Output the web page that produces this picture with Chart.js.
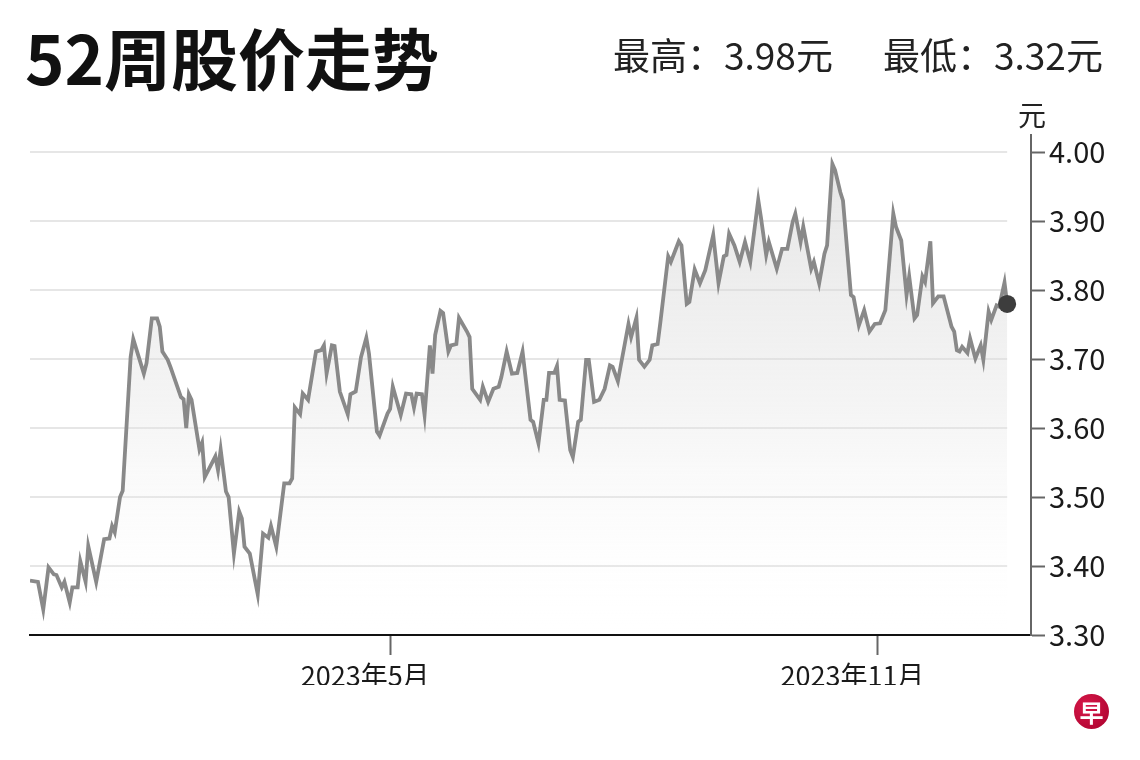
<!DOCTYPE html>
<html lang="zh">
<head>
<meta charset="utf-8">
<title>52周股价走势</title>
<script src="https://cdn.jsdelivr.net/npm/chart.js@4.4.1/dist/chart.umd.min.js"></script>
<style>
  body { margin: 0; background: #fff; }
  #wrap { position: relative; width: 1140px; height: 760px; overflow: hidden; font-family: "Noto Sans CJK SC", "Noto Sans", sans-serif; }
  #stockChart { position: absolute; left: 0; top: 0; }
  .txt { position: absolute; line-height: 1; white-space: nowrap; }
  #title { left: 25px; top: 22px; font-size: 67px; font-weight: 700; color: #111; }
  .hilo { top: 36px; font-size: 37px; color: #222; }
  #unit { left: 1018px; top: 100px; font-size: 28px; color: #222; }
  #logo { position: absolute; left: 1074px; top: 694px; width: 35px; height: 35px; border-radius: 50%;
          background: radial-gradient(circle at 35% 35%, #d8194a, #a8002c); color: #fff;
          font-size: 24px; font-weight: 700; line-height: 35px; text-align: center; }
</style>
</head>
<body>
<div id="wrap">
  <canvas id="stockChart" width="1140" height="760"></canvas>
  <div id="title" class="txt">52周股价走势</div>
  <div class="txt hilo" style="left:613px">最高：3.98元</div>
  <div class="txt hilo" style="left:883px">最低：3.32元</div>
  <div id="unit" class="txt">元</div>
  <div id="logo">早</div>
</div>
<script>
// Días desde el 16/12/2022 y precio de cierre
const DAYS = [0, 3, 5, 7, 9, 10, 12, 13, 15, 16, 18, 19, 21, 22, 25, 28, 30, 31, 32, 34, 35, 38, 39, 43, 44, 46, 48, 49, 50, 52, 53, 57, 58, 59, 60, 61, 64, 65, 66, 70, 71, 72, 74, 75, 77, 79, 80, 81, 83, 86, 88, 90, 91, 93, 96, 98, 99, 100, 102, 103, 105, 108, 110, 111, 112, 114, 115, 117, 120, 121, 123, 125, 127, 128, 131, 132, 135, 136, 137, 140, 142, 144, 145, 146, 148, 149, 151, 152, 153, 155, 156, 158, 159, 161, 162, 165, 166, 167, 170, 171, 173, 175, 177, 178, 180, 182, 184, 186, 189, 190, 192, 194, 195, 196, 198, 199, 200, 202, 204, 205, 207, 208, 210, 211, 213, 215, 217, 219, 220, 222, 223, 226, 227, 229, 230, 232, 234, 235, 237, 238, 241, 242, 245, 246, 248, 249, 251, 253, 255, 258, 260, 262, 263, 264, 266, 268, 270, 272, 275, 276, 278, 279, 282, 284, 286, 288, 289, 291, 292, 295, 296, 298, 300, 301, 303, 304, 306, 307, 310, 311, 313, 315, 317, 319, 321, 323, 326, 327, 329, 331, 332, 334, 335, 337, 338, 340, 341, 343, 345, 348, 349, 350, 351, 352, 354, 355, 357, 359, 360, 362, 363, 365, 366, 368, 369];
const PRICES = [3.379, 3.377, 3.337, 3.398, 3.388, 3.387, 3.369, 3.377, 3.347, 3.369, 3.369, 3.407, 3.377, 3.429, 3.377, 3.439, 3.440, 3.458, 3.449, 3.500, 3.509, 3.703, 3.729, 3.679, 3.694, 3.759, 3.759, 3.747, 3.711, 3.699, 3.689, 3.645, 3.642, 3.600, 3.649, 3.641, 3.569, 3.579, 3.529, 3.559, 3.539, 3.569, 3.508, 3.500, 3.418, 3.479, 3.469, 3.428, 3.418, 3.359, 3.447, 3.441, 3.458, 3.428, 3.520, 3.520, 3.527, 3.630, 3.620, 3.650, 3.641, 3.711, 3.713, 3.720, 3.679, 3.720, 3.719, 3.653, 3.620, 3.649, 3.653, 3.703, 3.731, 3.708, 3.595, 3.589, 3.621, 3.628, 3.660, 3.619, 3.650, 3.649, 3.630, 3.650, 3.649, 3.619, 3.720, 3.679, 3.735, 3.770, 3.767, 3.711, 3.720, 3.722, 3.760, 3.740, 3.732, 3.657, 3.641, 3.660, 3.638, 3.657, 3.660, 3.674, 3.711, 3.679, 3.680, 3.711, 3.612, 3.609, 3.578, 3.641, 3.641, 3.680, 3.680, 3.690, 3.641, 3.640, 3.568, 3.558, 3.609, 3.612, 3.699, 3.699, 3.638, 3.641, 3.657, 3.691, 3.689, 3.668, 3.689, 3.751, 3.732, 3.760, 3.699, 3.689, 3.699, 3.720, 3.722, 3.752, 3.849, 3.841, 3.871, 3.865, 3.780, 3.783, 3.830, 3.810, 3.829, 3.880, 3.810, 3.849, 3.851, 3.882, 3.865, 3.841, 3.870, 3.841, 3.931, 3.906, 3.851, 3.870, 3.831, 3.860, 3.860, 3.899, 3.911, 3.870, 3.892, 3.831, 3.841, 3.810, 3.853, 3.865, 3.983, 3.974, 3.942, 3.930, 3.793, 3.790, 3.749, 3.771, 3.740, 3.751, 3.752, 3.771, 3.911, 3.892, 3.872, 3.793, 3.820, 3.759, 3.764, 3.820, 3.812, 3.871, 3.781, 3.791, 3.791, 3.747, 3.740, 3.713, 3.711, 3.718, 3.709, 3.730, 3.701, 3.720, 3.699, 3.769, 3.757, 3.778, 3.776, 3.811, 3.780];

// Marcas de los ejes
const X_TICK_DAYS = [136, 320];
const X_TICK_LABELS = ['2023年5月', '2023年11月'];
const Y_TICKS = [3.30, 3.40, 3.50, 3.60, 3.70, 3.80, 3.90, 4.00];

const FONT = '"Noto Sans CJK SC", "Noto Sans", sans-serif';

// Líneas horizontales de la cuadrícula, solo hasta el último punto
const gridPlugin = {
  id: 'shortGrid',
  beforeDatasetsDraw(chart) {
    const { ctx, chartArea, scales } = chart;
    const xEnd = scales.x.getPixelForValue(DAYS[DAYS.length - 1]);
    ctx.save();
    ctx.strokeStyle = '#e6e6e6';
    ctx.lineWidth = 2;
    Y_TICKS.slice(1).forEach(v => {
      const y = Math.round(scales.y.getPixelForValue(v));
      ctx.beginPath();
      ctx.moveTo(chartArea.left, y);
      ctx.lineTo(xEnd, y);
      ctx.stroke();
    });
    ctx.restore();
  }
};

const points = DAYS.map((d, i) => ({ x: d, y: PRICES[i] }));
const lastIndex = points.length - 1;

const stockContext = document.getElementById('stockChart').getContext('2d');
const stockChart = new Chart(stockContext, {
  type: 'line',
  data: {
    datasets: [{
      data: points,
      borderColor: '#898989',
      borderWidth: 3.8,
      tension: 0,
      fill: 'start',
      backgroundColor: (c) => {
        const area = c.chart.chartArea;
        if (!area) return 'rgba(220,220,220,0.4)';
        const g = c.chart.ctx.createLinearGradient(0, area.top, 0, area.bottom);
        g.addColorStop(0, 'rgba(205,205,205,0.55)');
        g.addColorStop(0.55, 'rgba(225,225,225,0.35)');
        g.addColorStop(1, 'rgba(255,255,255,0)');
        return g;
      },
      pointRadius: (c) => c.dataIndex === lastIndex ? 9 : 0,
      pointBackgroundColor: '#3d3d3d',
      pointBorderWidth: 0,
      pointHoverRadius: 0
    }]
  },
  options: {
    responsive: false,
    animation: false,
    layout: { padding: { top: 135, left: 30, right: 0, bottom: 75 } },
    plugins: {
      legend: { display: false },
      tooltip: { enabled: false }
    },
    scales: {
      x: {
        type: 'linear',
        min: 0,
        max: 378,
        afterBuildTicks: (axis) => { axis.ticks = X_TICK_DAYS.map(v => ({ value: v })); },
        afterFit: (axis) => { axis.height = 50; },
        ticks: {
          autoSkip: false,
          maxRotation: 0,
          padding: 5,
          labelOffset: -25,
          color: '#1a1a1a',
          font: { family: FONT, size: 27 },
          callback: (v) => X_TICK_LABELS[X_TICK_DAYS.indexOf(v)]
        },
        grid: { drawOnChartArea: false, drawTicks: true, tickLength: 20, tickColor: '#666', tickWidth: 2 },
        border: { display: true, color: '#111', width: 2 }
      },
      y: {
        position: 'right',
        min: 3.30,
        max: 4.025,
        afterBuildTicks: (axis) => { axis.ticks = Y_TICKS.map(v => ({ value: v })); },
        afterFit: (axis) => { axis.width = 109; },
        ticks: {
          padding: 4,
          color: '#1a1a1a',
          font: { family: FONT, size: 29 },
          callback: (v) => v.toFixed(2)
        },
        grid: { drawOnChartArea: false, drawTicks: true, tickLength: 14, tickColor: '#666', tickWidth: 2 },
        border: { display: true, color: '#666', width: 2 }
      }
    }
  },
  plugins: [gridPlugin]
});
</script>
</body>
</html>
